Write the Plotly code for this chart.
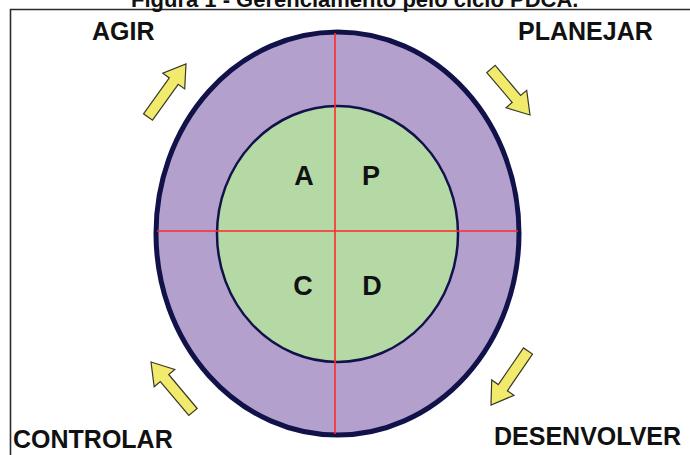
import math
import plotly.graph_objects as go

# ---- data ----
title_text = "Figura 1 - Gerenciamento pelo ciclo PDCA."
phases = ["AGIR", "PLANEJAR", "CONTROLAR", "DESENVOLVER"]
letters = ["A", "P", "C", "D"]

# ---- layout helpers (pixel coordinates, y downwards) ----
W, H = 690, 455
FONT = "Liberation Sans, Arial, Helvetica, sans-serif"

phase_pos = {"AGIR": (123, 31, "center"), "PLANEJAR": (585, 31, "center"),
             "CONTROLAR": (11, 439, "left"), "DESENVOLVER": (492, 436, "left")}
letter_pos = {"A": (304, 178), "P": (371, 178), "C": (303, 288), "D": (372, 288)}

arrows = [((148, 117), (186, 64)),
          ((491, 69), (530, 115)),
          ((193, 412), (151, 362)),
          ((528, 351), (491, 405))]


def arrow_path(tail, tip, shaft_w=11, head_w=27, head_len=21):
    dx, dy = tip[0] - tail[0], tip[1] - tail[1]
    L = math.hypot(dx, dy)
    ux, uy = dx / L, dy / L
    nx, ny = -uy, ux
    bx, by = tip[0] - head_len * ux, tip[1] - head_len * uy
    s, h = shaft_w / 2, head_w / 2
    pts = [(tail[0] + nx * s, tail[1] + ny * s),
           (bx + nx * s, by + ny * s),
           (bx + nx * h, by + ny * h),
           tip,
           (bx - nx * h, by - ny * h),
           (bx - nx * s, by - ny * s),
           (tail[0] - nx * s, tail[1] - ny * s)]
    return "M " + " L ".join(f"{x:.1f},{y:.1f}" for x, y in pts) + " Z"


fig = go.Figure()

shapes = []
# frame
shapes.append(dict(type="path", path="M 10.5,455 L 10.5,9.5 L 690,9.5",
                   line=dict(color="#2b2b2b", width=1.6), layer="below"))
# outer ellipse
shapes.append(dict(type="circle", x0=156, x1=519, y0=32, y1=435, layer="below",
                   fillcolor="#b3a0cc", line=dict(color="#12124a", width=5)))
# inner ellipse
shapes.append(dict(type="circle", x0=217, x1=458, y0=106, y1=362, layer="below",
                   fillcolor="#b5d9a5", line=dict(color="#12124a", width=2.5)))
# red cross
shapes.append(dict(type="line", x0=335, x1=335, y0=33, y1=434, layer="below",
                   line=dict(color="#ff2a2a", width=1.6)))
shapes.append(dict(type="line", x0=157, x1=518, y0=231, y1=231, layer="below",
                   line=dict(color="#ff2a2a", width=1.6)))
# arrows
for tail, tip in arrows:
    shapes.append(dict(type="path", path=arrow_path(tail, tip), layer="below",
                       fillcolor="#f2ea6c", line=dict(color="#3a3a2a", width=1.2)))

fig.update_layout(shapes=shapes)

# quadrant letters (drawn as a text trace)
fig.add_trace(go.Scatter(x=[letter_pos[l][0] for l in letters],
                         y=[letter_pos[l][1] for l in letters],
                         mode="text", text=letters, textposition="middle center",
                         textfont=dict(family=FONT, size=27, color="#111111",
                                       weight="bold"),
                         hoverinfo="skip", showlegend=False))

# phase labels
for p in phases:
    x, y, anchor = phase_pos[p]
    fig.add_annotation(x=x, y=y, xref="x", yref="y", text=f"<b>{p}</b>",
                       showarrow=False, xanchor=anchor, yanchor="middle",
                       font=dict(family=FONT, size=25, color="#111111"))

# title (partially cut at top, as in the reference)
fig.add_annotation(x=354, y=1, xref="x", yref="paper", text=f"<b>{title_text}</b>",
                   showarrow=False, yanchor="middle", yshift=1,
                   font=dict(family=FONT, size=22, color="#111111"))

fig.update_xaxes(range=[0, W], visible=False, fixedrange=True)
fig.update_yaxes(range=[H, 0], visible=False, fixedrange=True)
fig.update_layout(width=W, height=H, autosize=False,
                  margin=dict(l=0, r=0, t=0, b=0),
                  paper_bgcolor="white", plot_bgcolor="white")

fig.write_html("out.html", config={"displayModeBar": False},
               post_script="document.body.style.margin='0';document.body.style.overflow='hidden';")
